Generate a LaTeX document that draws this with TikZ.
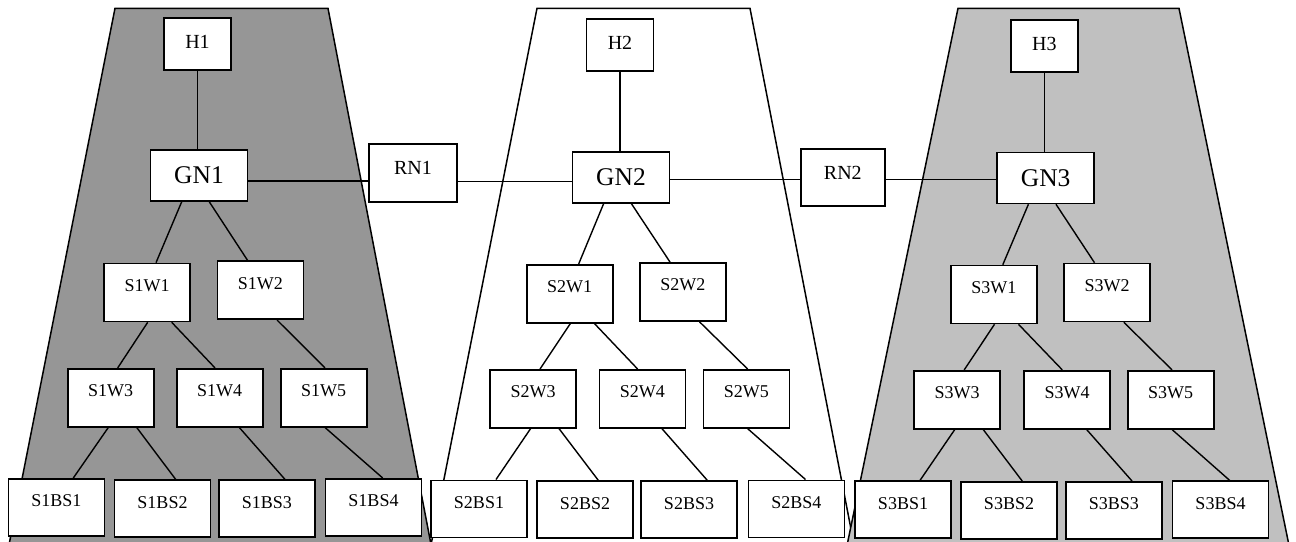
\documentclass[tikz,border=0pt]{standalone}
\usepackage{fontspec}
\setmainfont{Liberation Serif}
\begin{document}
\begin{tikzpicture}[x=1pt,y=-1pt,
  link/.style={line width=1.4pt},
  zone/.style={draw=black,line width=1.5pt},
  bx/.style={draw,line width=1.6pt,fill=white,inner sep=0pt},
  hbox/.style={bx,minimum width=67pt,minimum height=52pt,
    font=\fontsize{20}{24}\selectfont,text height=13.2pt,text depth=4.6pt},
  gnbox/.style={bx,minimum width=97pt,minimum height=51pt,
    font=\fontsize{25.5}{30}\selectfont,text height=16.9pt,text depth=0pt},
  rnbox/.style={bx,minimum width=86pt,minimum height=58pt,
    font=\fontsize{20}{24}\selectfont,text height=13.2pt,text depth=9.4pt},
  wbox/.style={bx,minimum width=86pt,minimum height=58pt,
    font=\fontsize{18}{22}\selectfont,text height=11.9pt,text depth=14pt},
  bsbox/.style={bx,minimum width=96pt,minimum height=57pt,
    font=\fontsize{18}{22}\selectfont,text height=11.9pt,text depth=12.6pt}]
\clip (0,0) rectangle (1296,541);
% three network zones
\filldraw[zone,fill={rgb,255:red,150;green,150;blue,150}]
  (115,8.3) -- (328,8.3) -- (434,560) -- (6,560) -- cycle;
\filldraw[zone,fill=white]
  (537,8.3) -- (750,8.3) -- (857,560) -- (428,560) -- cycle;
\filldraw[zone,fill={rgb,255:red,192;green,192;blue,192}]
  (958,8.3) -- (1179,8.3) -- (1292,560) -- (844,560) -- cycle;

% hosts, gateways and routers
\node[hbox] (H1) at (197.5,44) {H1};
\node[hbox] (H2) at (620,45) {H2};
\node[hbox] (H3) at (1044.3,45.8) {H3};
\node[gnbox] (GN1) at (199,175.5) {GN1};
\node[gnbox] (GN2) at (621,177.2) {GN2};
\node[gnbox] (GN3) at (1045.7,178) {GN3};
\node[rnbox,minimum width=88pt] (RN1) at (413,173) {RN1};
\node[rnbox,minimum width=84pt,minimum height=57pt] (RN2) at (842.8,177.3) {RN2};

% subnet 1
\node[wbox] (S1W1) at (147,292.5) {S1W1};
\node[wbox] (S1W2) at (260.3,290.2) {S1W2};
\node[wbox] (S1W3) at (110.7,397.7) {S1W3};
\node[wbox] (S1W4) at (219.7,397.7) {S1W4};
\node[wbox] (S1W5) at (323.7,397.7) {S1W5};
\node[bsbox] (S1BS1) at (56.3,507.3) {S1BS1};
\node[bsbox] (S1BS2) at (162.5,508.7) {S1BS2};
\node[bsbox] (S1BS3) at (266.8,508.7) {S1BS3};
\node[bsbox] (S1BS4) at (373.5,507.3) {S1BS4};

% subnet 2
\node[wbox] (S2W1) at (569.7,293.7) {S2W1};
\node[wbox] (S2W2) at (682.8,292) {S2W2};
\node[wbox] (S2W3) at (533,398.8) {S2W3};
\node[wbox] (S2W4) at (642.3,398.8) {S2W4};
\node[wbox] (S2W5) at (746.3,398.8) {S2W5};
\node[bsbox] (S2BS1) at (479,508.8) {S2BS1};
\node[bsbox] (S2BS2) at (585,509.5) {S2BS2};
\node[bsbox] (S2BS3) at (689,509.5) {S2BS3};
\node[bsbox] (S2BS4) at (796.3,508.8) {S2BS4};

% subnet 3
\node[wbox] (S3W1) at (993.8,294.5) {S3W1};
\node[wbox] (S3W2) at (1107.2,292.5) {S3W2};
\node[wbox] (S3W3) at (957.2,399.7) {S3W3};
\node[wbox] (S3W4) at (1067,399.7) {S3W4};
\node[wbox] (S3W5) at (1170.7,399.7) {S3W5};
\node[bsbox] (S3BS1) at (903,509.7) {S3BS1};
\node[bsbox] (S3BS2) at (1009,510.3) {S3BS2};
\node[bsbox] (S3BS3) at (1113.8,510.3) {S3BS3};
\node[bsbox] (S3BS4) at (1220.5,509.7) {S3BS4};

% tree links inside each subnet
\foreach \t in {1,2,3}{
  \draw[link] (H\t.south) -- (H\t.south |- GN\t.north);
  \draw[link] ([xshift=-17.3pt]GN\t.south) -- ([xshift=9pt]S\t W1.north);
  \draw[link] ([xshift=10.3pt]GN\t.south) -- ([xshift=-12.7pt]S\t W2.north);
  \draw[link] ([xshift=0.7pt]S\t W1.south) -- ([xshift=7pt]S\t W3.north);
  \draw[link] ([xshift=24.7pt]S\t W1.south) -- ([xshift=-4.7pt]S\t W4.north);
  \draw[link] ([xshift=16.7pt]S\t W2.south) -- ([xshift=1.3pt]S\t W5.north);
  \draw[link] ([xshift=-2.4pt]S\t W3.south) -- ([xshift=17pt]S\t BS1.north);
  \draw[link] ([xshift=26pt]S\t W3.south) -- ([xshift=13.2pt]S\t BS2.north);
  \draw[link] ([xshift=19.6pt]S\t W4.south) -- ([xshift=18.2pt]S\t BS3.north);
  \draw[link] ([xshift=1.3pt]S\t W5.south) -- ([xshift=9.2pt]S\t BS4.north);
}

% backbone links between gateways and routers
\draw[link] ([yshift=-5.5pt]GN1.east) coordinate (a1) -- (a1 -| RN1.west);
\draw[link] ([yshift=-4pt]GN2.west) coordinate (a2) -- (a2 -| RN1.east);
\draw[link] ([yshift=-2.3pt]GN2.east) coordinate (a3) -- (a3 -| RN2.west);
\draw[link] ([yshift=-1.3pt]GN3.west) coordinate (a4) -- (a4 -| RN2.east);
\end{tikzpicture}
\end{document}
